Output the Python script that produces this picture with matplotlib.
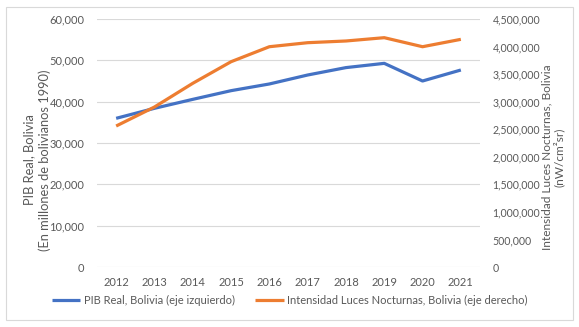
import matplotlib
matplotlib.use("Agg")
import matplotlib.pyplot as plt
from matplotlib.patches import Rectangle
from matplotlib.ticker import FuncFormatter, MultipleLocator

years = ["2012", "2013", "2014", "2015", "2016", "2017", "2018", "2019", "2020", "2021"]
pib = [35970, 38390, 40560, 42660, 44280, 46450, 48240, 49270, 45000, 47660]
luces = [2558000, 2903000, 3333000, 3725000, 3997000, 4070000, 4101000, 4161000, 3997000, 4131000]

plt.rcParams['font.family'] = ['Lato', 'DejaVu Sans']
TXT = '#595959'
GRID = '#D9D9D9'
BLUE = '#4472C4'
ORANGE = '#ED7D31'

W, H = 579, 327
fig = plt.figure(figsize=(W/100, H/100), dpi=100)
fig.patches.append(Rectangle((6/W, 1-320/H), (573-6)/W, (320-7)/H,
                             transform=fig.transFigure, fill=False, edgecolor=GRID, linewidth=0.8))

ax = fig.add_axes([97/W, 1-267/H, (480-97)/W, (267-19)/H])
ax2 = ax.twinx()
x = list(range(len(years)))
l1, = ax.plot(x, pib, color=BLUE, lw=2.3, solid_capstyle='butt', label='PIB Real, Bolivia (eje izquierdo)')
l2, = ax2.plot(x, luces, color=ORANGE, lw=2.3, solid_capstyle='butt', label='Intensidad Luces Nocturnas, Bolivia (eje derecho)')

ax.set_xlim(-0.5, len(years) - 0.5)
ax.set_ylim(0, 60000)
ax2.set_ylim(0, 4500000)
ax.yaxis.set_major_locator(MultipleLocator(10000))
ax2.yaxis.set_major_locator(MultipleLocator(500000))
fmt = FuncFormatter(lambda v, p: f"{int(v):,}")
ax.yaxis.set_major_formatter(fmt)
ax2.yaxis.set_major_formatter(fmt)
ax.set_xticks(x)
ax.set_xticklabels(years)
ax.grid(axis='y', color=GRID, lw=0.8)
ax.set_axisbelow(True)
for a in (ax, ax2):
    for s in a.spines.values():
        s.set_visible(False)
    a.tick_params(length=0, labelsize=8, colors=TXT)
ax2.tick_params(axis='y', labelsize=7.6)
ax.tick_params(axis='y', pad=9)
ax2.tick_params(axis='y', pad=9)
ax.tick_params(axis='x', pad=7)

fig.text(37/W, 1-160/H, "PIB Real, Bolivia\n(En millones de bolivianos 1990)", rotation=90,
         ha='center', va='center', multialignment='center', fontsize=9.3, color=TXT, linespacing=1.3)
fig.text(553/W, 1-157/H, "Intensidad Luces Nocturnas, Bolivia\n(nW/cm²sr)", rotation=90,
         ha='center', va='center', multialignment='center', fontsize=8.6, color=TXT, linespacing=1.0)

fig.legend(handles=[l1, l2], loc='center', bbox_to_anchor=(0.5, 1-300/H), ncol=2, frameon=False,
           fontsize=8, labelcolor=TXT, handlelength=2.6, handletextpad=0.3, columnspacing=1.8)

fig.savefig("out.png", dpi=100)
